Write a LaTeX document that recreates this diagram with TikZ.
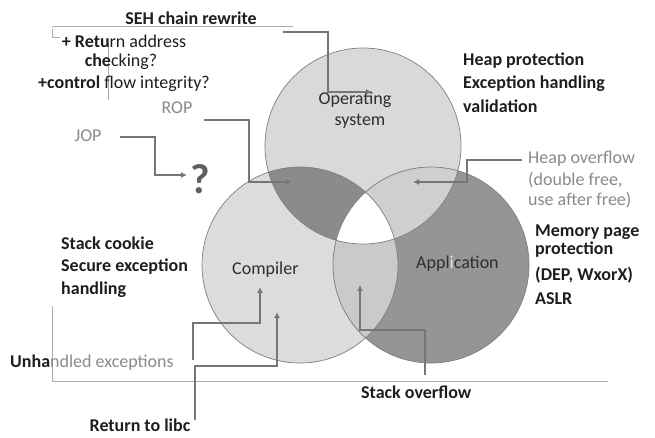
\documentclass[tikz,border=0pt]{standalone}
\usepackage{fontspec}
\setmainfont{Carlito}
\usetikzlibrary{arrows.meta}

\definecolor{ink}{HTML}{1E1E1E}
\definecolor{label}{HTML}{2E2E2E}
\definecolor{faint}{HTML}{8A8A8A}
\definecolor{qmark}{HTML}{5E5E5E}
\definecolor{ghost}{HTML}{E6E6E6}
\definecolor{wire}{HTML}{767676}
\definecolor{rule}{HTML}{ABABAB}
\definecolor{edge}{HTML}{7E7E7E}
% region fills of the three-set diagram
\definecolor{osfill}{HTML}{D9D9D9}
\definecolor{ccfill}{HTML}{DCDCDC}
\definecolor{apfill}{HTML}{959595}
\definecolor{oscc}{HTML}{8B8B8B}
\definecolor{osap}{HTML}{CFCFCF}
\definecolor{ccap}{HTML}{CACACA}

\begin{document}
\begin{tikzpicture}[x=1pt,y=-1pt,
  txt/.style={inner sep=0pt, font=\fontsize{18}{22}\selectfont},
  hb/.style={txt, font=\fontsize{18}{22}\selectfont\bfseries, text=ink},
  lite/.style={txt, text=faint},
  inner/.style={txt, text=label},
  conn/.style={draw=wire, line width=2.2pt, -{Latex[length=6pt,width=6pt]}},
  guide/.style={draw=rule, line width=1pt},
  ring/.style={draw=edge, line width=0.7pt}]

\useasboundingbox (0,0) rectangle (655,437);
\fill[white] (0,0) rectangle (655,437);

% circle centres
\coordinate (ct) at (363,146);
\coordinate (cl) at (300,265);
\coordinate (cr) at (431,265);
\def\rad{98}

% single regions
\fill[osfill] (ct) circle (\rad);
\fill[ccfill] (cl) circle (\rad);
\fill[apfill] (cr) circle (\rad);
% compiler & application overlap
\begin{scope}
  \clip (cl) circle (\rad);
  \fill[ccap] (cr) circle (\rad);
\end{scope}
% overlaps with the operating system
\begin{scope}
  \clip (ct) circle (\rad);
  \fill[oscc] (cl) circle (\rad);
  \fill[osap] (cr) circle (\rad);
  \clip (cl) circle (\rad);
  \fill[white] (cr) circle (\rad);
\end{scope}
% outlines
\draw[ring] (ct) circle (\rad);
\draw[ring] (cl) circle (\rad);
\draw[ring] (cr) circle (\rad);

% thin guide lines
\draw[guide] (52,26) -- (293,26);
\draw[guide] (52,29) -- (52,37) -- (60,37);
\draw[guide] (108,43) -- (108,100);
\draw[guide] (52,306) -- (52,381) -- (608,381);

% circle labels
\node[inner, anchor=base] (os1) at (355,104) {Operating};
\node[inner, anchor=base] (os2) at (360,125) {system};
\node[inner, anchor=base west] (cc) at (232,274) {Compiler};
\node[inner, anchor=base west] (ap) at (416,268) {Appl{\color{ghost}i}cation};

% outside labels
\node[hb, anchor=base] (seh) at (191,24) {SEH chain rewrite};
\node[txt, text=ink, anchor=base] (cfi1) at (124,47) {{\bfseries + Retu}rn address};
\node[txt, text=ink, anchor=base] (cfi2) at (121,66) {{\bfseries che}cking?};
\node[txt, text=ink, anchor=base] (cfi3) at (124,88) {{\bfseries +control} flow integrity?};
\node[lite, anchor=base] (rop) at (177,113) {ROP};
\node[lite, anchor=base] (jop) at (88,141) {JOP};
\node[inner sep=0pt, anchor=base, font=\fontsize{42}{42}\selectfont\bfseries, text=qmark] (q) at (200,193) {?};

\node[hb, anchor=base west] (hp1) at (463,65) {Heap protection};
\node[hb, anchor=base west] (hp2) at (463,88) {Exception handling};
\node[hb, anchor=base west] (hp3) at (463,112) {validation};

\node[lite, anchor=base west] (ho1) at (528,163) {Heap overflow};
\node[lite, anchor=base west] (ho2) at (528,185) {(double free,};
\node[lite, anchor=base west] (ho3) at (528,205) {use after free)};

\node[hb, anchor=base west] (mp1) at (535,236) {Memory page};
\node[hb, anchor=base west] (mp2) at (535,254) {protection};
\node[hb, anchor=base west] (mp3) at (535,280) {(DEP, WxorX)};
\node[hb, anchor=base west] (mp4) at (535,304) {ASLR};

\node[hb, anchor=base west] (sc1) at (61,249) {Stack cookie};
\node[hb, anchor=base west] (sc2) at (61,271) {Secure exception};
\node[hb, anchor=base west] (sc3) at (61,294) {handling};

\node[lite, anchor=base west] (ue) at (10,367) {{\color{ink}\bfseries Unha}ndled exceptions};
\node[hb, anchor=base] (libc) at (140,431) {Return to libc};
\node[hb, anchor=base west] (so) at (361,398) {Stack overflow};

% connector end points
\coordinate (seh-s) at (283,32);  \coordinate (seh-k) at (328,92);  \coordinate (seh-e) at (372,92);
\coordinate (rop-s) at (204,120); \coordinate (rop-k) at (249,182); \coordinate (rop-e) at (292,182);
\coordinate (jop-s) at (120,137); \coordinate (jop-k) at (155,175); \coordinate (jop-e) at (187,175);
\coordinate (ho-s) at (522,160);  \coordinate (ho-k) at (467,182);  \coordinate (ho-e) at (413,182);
\coordinate (ue-s) at (193,360);  \coordinate (ue-k) at (260,323);  \coordinate (ue-e) at (260,287);
\coordinate (lc-s) at (195,420);  \coordinate (lc-k) at (277,366);  \coordinate (lc-e) at (277,312);
\coordinate (so-s) at (425,375);  \coordinate (so-k) at (360,330);  \coordinate (so-e) at (360,285);

% connectors
\draw[conn] (seh-s) -| (seh-k) -- (seh-e);
\draw[conn] (rop-s) -| (rop-k) -- (rop-e);
\draw[conn] (jop-s) -| (jop-k) -- (jop-e);
\draw[conn] (ho-s) -| (ho-k) -- (ho-e);
\draw[conn] (ue-s) |- (ue-k) -- (ue-e);
\draw[conn] (lc-s) |- (lc-k) -- (lc-e);
\draw[conn] (so-s) |- (so-k) -- (so-e);
\end{tikzpicture}
\end{document}
